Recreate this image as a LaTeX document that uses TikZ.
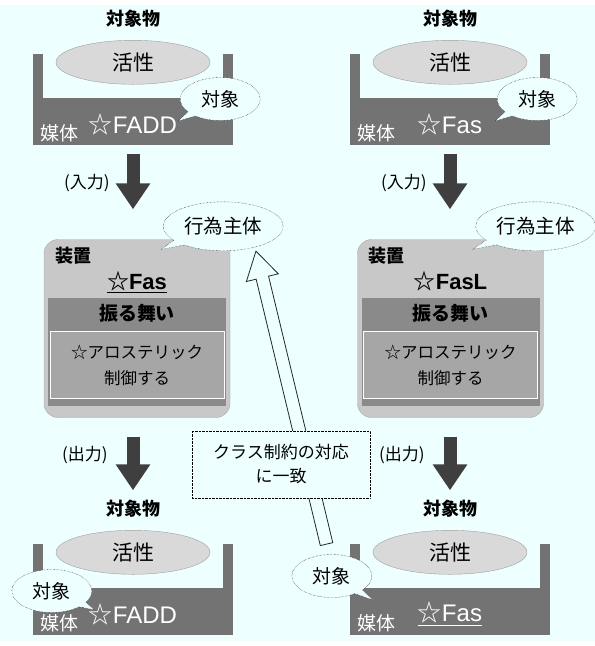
\documentclass[tikz,border=0pt]{standalone}
\usepackage{fontspec}
\setmainfont{Liberation Sans}
\newfontfamily\jp{Noto Sans CJK JP}
\usetikzlibrary{positioning}
\usetikzlibrary{calc}
\usetikzlibrary{arrows.meta}
\usetikzlibrary{shapes.geometric}
\usetikzlibrary{shapes.callouts}
\usetikzlibrary{shapes.arrows}

\definecolor{bgcyan}{HTML}{EEFFFF}
\definecolor{medgray}{HTML}{737373}
\definecolor{ovalgray}{HTML}{D9D9D9}
\definecolor{ovaledge}{HTML}{A0A0A0}
\definecolor{devgray}{HTML}{C8C8C8}
\definecolor{devedge}{HTML}{A8A8A8}
\definecolor{bandgray}{HTML}{8A8A8A}
\definecolor{innergray}{HTML}{A6A6A6}
\definecolor{arrowgray}{HTML}{3F3F3F}

\begin{document}
\begin{tikzpicture}[x=1pt, y=-1pt,
    medbox/.style={fill=medgray, minimum width=200pt, minimum height=91pt, inner sep=0pt},
    oval/.style={ellipse, draw=ovaledge, fill=ovalgray, minimum width=154pt, minimum height=44pt, inner sep=0pt, font=\jp\fontsize{21}{21}\selectfont},
    objtitle/.style={inner sep=0pt, font=\jp\bfseries\fontsize{18}{18}\selectfont},
    medtag/.style={inner sep=0pt, text=white, font=\jp\fontsize{19}{19}\selectfont},
    molname/.style={inner sep=0pt, text=white, font=\fontsize{24}{24}\selectfont},
    bubble/.style={ellipse callout, draw=black, densely dotted, fill=bgcyan, inner sep=0pt, minimum width=80pt, minimum height=43pt, font=\jp\fontsize{19}{19}\selectfont},
    bigbubble/.style={bubble, minimum width=120pt, minimum height=49pt, font=\jp\fontsize{19.5}{19.5}\selectfont},
    devbox/.style={rectangle, rounded corners=14pt, draw=devedge, fill=devgray, minimum width=186pt, minimum height=178pt},
    devtag/.style={inner sep=0pt, font=\jp\bfseries\fontsize{18}{18}\selectfont},
    devname/.style={inner sep=0pt, font=\bfseries\fontsize{22}{22}\selectfont},
    band/.style={fill=bandgray, minimum width=178pt, minimum height=108pt, inner sep=0pt},
    bandtext/.style={inner sep=0pt, font=\jp\bfseries\fontsize{19}{19}\selectfont},
    ctrlbox/.style={draw=white, fill=innergray, minimum width=174pt, minimum height=67pt, align=center, font=\jp\fontsize{16.5}{26}\selectfont},
    flowarrow/.style={draw=arrowgray, line width=13pt, -{Triangle[width=33pt, length=26pt]}},
    flowlabel/.style={inner sep=0pt, font=\jp\fontsize{17}{17}\selectfont},
    hollow/.style={single arrow, draw=black!85, line width=0.8pt, fill=bgcyan, inner sep=0pt, inner ysep=6pt, single arrow head extend=10pt, single arrow tip angle=62, minimum width=0pt},
    notebox/.style={draw=black, densely dotted, fill=bgcyan, minimum width=178pt, minimum height=67pt, align=center, font=\jp\fontsize{17}{24}\selectfont}]

  \useasboundingbox (0,0) rectangle (595,646);
  \fill[bgcyan] (0,5) rectangle (595,641);

  % input objects
  \node[medbox] (medTL) at (133,99) {};
  \fill[bgcyan] ([xshift=10pt]medTL.north west) rectangle ([xshift=-10pt,yshift=-45pt]medTL.north east);
  \node[oval] (ovTL) at ([yshift=-9pt]medTL.north) {活性};
  \node[objtitle, above=13pt of ovTL] (ttlTL) {対象物};
  \node[medtag, above right=2pt and 7pt of medTL.south west] (tagTL) {媒体};
  \node[molname, above=9pt of medTL.south] (molTL) {{\jp ☆}FADD};
  \node[bubble, callout absolute pointer={([xshift=-55pt,yshift=-22pt]medTL.east)}] (bubTL) at ([xshift=-13pt]medTL.east) {対象};

  \node[medbox] (medTR) at (450,99) {};
  \fill[bgcyan] ([xshift=10pt]medTR.north west) rectangle ([xshift=-10pt,yshift=-45pt]medTR.north east);
  \node[oval] (ovTR) at ([yshift=-9pt]medTR.north) {活性};
  \node[objtitle, above=13pt of ovTR] (ttlTR) {対象物};
  \node[medtag, above right=2pt and 7pt of medTR.south west] (tagTR) {媒体};
  \node[molname, above=9pt of medTR.south] (molTR) {{\jp ☆}Fas};
  \node[bubble, callout absolute pointer={([xshift=-55pt,yshift=-22pt]medTR.east)}] (bubTR) at ([xshift=-13pt]medTR.east) {対象};

  % devices
  \node[devbox] (devL) at (137,328.5) {};
  \node[devtag, below right=8pt and 11pt of devL.north west] (dtagL) {装置};
  \node[devname, below=32pt of devL.north] (dnameL) {\underline{{\jp ☆}Fas}};
  \node[band, below=58pt of devL.north] (bandL) {};
  \node[bandtext, below=7pt of bandL.north] (behL) {振る舞い};
  \node[ctrlbox, below=34pt of bandL.north] (ctrlL) {☆アロステリック\\制御する};

  \node[devbox] (devR) at (450.5,328.5) {};
  \node[devtag, below right=8pt and 11pt of devR.north west] (dtagR) {装置};
  \node[devname, below=32pt of devR.north] (dnameR) {{\jp ☆}FasL};
  \node[band, below=58pt of devR.north] (bandR) {};
  \node[bandtext, below=7pt of bandR.north] (behR) {振る舞い};
  \node[ctrlbox, below=34pt of bandR.north] (ctrlR) {☆アロステリック\\制御する};

  \node[bigbubble, callout absolute pointer={([xshift=-69pt,yshift=-10pt]devL.north east)}] (bubL) at ([xshift=-7pt,yshift=13pt]devL.north east) {行為主体};
  \node[bigbubble, callout absolute pointer={([xshift=-71pt,yshift=-10pt]devR.north east)}] (bubR) at ([xshift=-8pt,yshift=13pt]devR.north east) {行為主体};

  % output objects
  \node[medbox] (medBL) at (133,589) {};
  \fill[bgcyan] ([xshift=10pt]medBL.north west) rectangle ([xshift=-10pt,yshift=-45pt]medBL.north east);
  \node[oval] (ovBL) at ([yshift=-9pt]medBL.north) {活性};
  \node[objtitle, above=13pt of ovBL] (ttlBL) {対象物};
  \node[medtag, above right=2pt and 7pt of medBL.south west] (tagBL) {媒体};
  \node[molname, above=9pt of medBL.south] (molBL) {{\jp ☆}FADD};
  \node[bubble, callout absolute pointer={([xshift=62pt,yshift=-21pt]medBL.west)}] (bubBL) at ([xshift=19pt,yshift=-2pt]medBL.west) {対象};

  \node[medbox] (medBR) at (450,589) {};
  \fill[bgcyan] ([xshift=10pt]medBR.north west) rectangle ([xshift=-10pt,yshift=-45pt]medBR.north east);
  \node[oval] (ovBR) at ([yshift=-9pt]medBR.north) {活性};
  \node[objtitle, above=13pt of ovBR] (ttlBR) {対象物};
  \node[medtag, above right=2pt and 7pt of medBR.south west] (tagBR) {媒体};
  \node[molname, above=9pt of medBR.south] (molBR) {\underline{{\jp ☆}Fas}};
  \node[bubble, callout absolute pointer={([xshift=23pt,yshift=-11pt]medBR.west)}] (bubBR) at ([xshift=-18pt,yshift=13pt]medBR.west) {対象};

  % flow
  \draw[flowarrow, shorten <=9pt, shorten >=30pt] (medTL.south) -- node[flowlabel, left=17pt, pos=0.4] {(入力)} (medTL.south |- devL.north);
  \draw[flowarrow, shorten <=9pt, shorten >=30pt] (medTR.south) -- node[flowlabel, left=17pt, pos=0.4] {(入力)} (medTR.south |- devR.north);
  \draw[flowarrow, shorten <=19pt, shorten >=53pt] (devL.south -| medBL.north) -- node[flowlabel, left=19pt, pos=0.3] {(出力)} (medBL.north);
  \draw[flowarrow, shorten <=19pt, shorten >=53pt] (devR.south -| medBR.north) -- node[flowlabel, left=19pt, pos=0.3] {(出力)} (medBR.north);

  % class constraint
  \coordinate (hollowtail) at ([xshift=-4pt,yshift=5pt]bubBR.north);
  \coordinate (hollowtip) at ([xshift=34pt,yshift=-30pt]bubL.center);
  \path let \p1=(hollowtail), \p2=(hollowtip), \n1={atan2(\y2-\y1,\x2-\x1)}, \n2={veclen(\x2-\x1,\y2-\y1)} in
    node[hollow, rotate=\n1, minimum height=\n2] (matcharrow) at ($(hollowtail)!0.5!(hollowtip)$) {};
  \node[notebox] (match) at (281,464.5) {クラス制約の対応\\に一致};
\end{tikzpicture}
\end{document}
